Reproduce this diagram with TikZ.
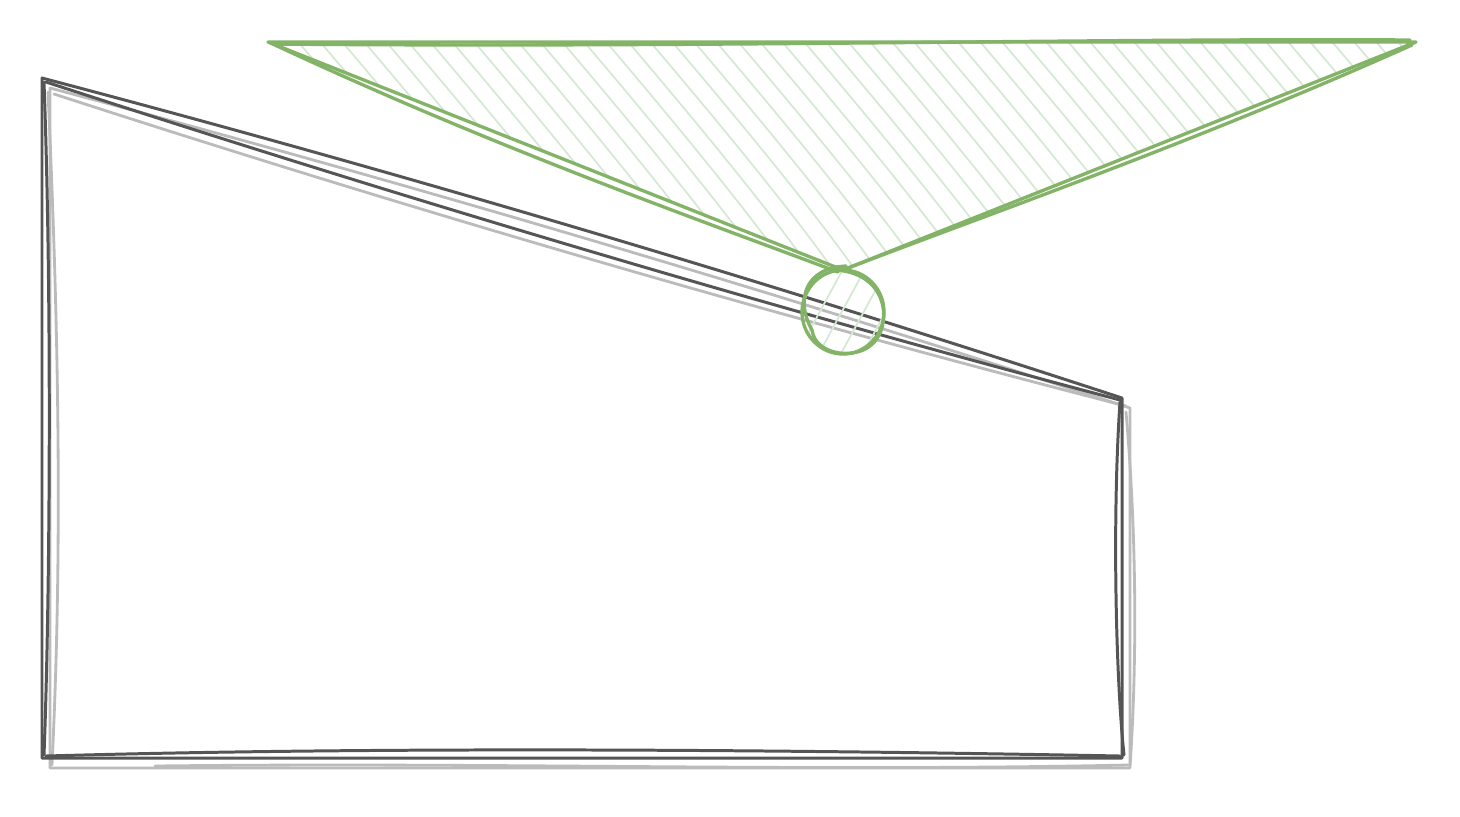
\documentclass[tikz,border=0pt]{standalone}
\usepackage{tikz}
\usepackage{xcolor}
\usetikzlibrary{calc}

\definecolor{edgegray}{HTML}{555555}
\definecolor{shadegray}{HTML}{BBBBBB}
\definecolor{leafgreen}{HTML}{82B366}
\definecolor{hatchgreen}{HTML}{D5E8D4}

\tikzset{
    outline/.style={edgegray, line width=1.7pt, line join=round, line cap=round},
    shade/.style={shadegray, line width=1.6pt, line join=round, line cap=round},
    funnel/.style={leafgreen, line width=1.9pt, line join=round, line cap=round},
    hatch/.style={hatchgreen, line width=1pt}
}

\begin{document}
\begin{tikzpicture}[x=0.02cm, y=-0.02cm]
    \useasboundingbox (0,0) rectangle (1460,816);

    % Shadow of the block
    \draw[shade] (50,88) .. controls (410,184) and (770,290) .. (1130,408)
        -- (1130,768) -- (50,768) -- cycle;
    \draw[shade] (48,92) .. controls (62,400) and (60,600) .. (52,765);
    \draw[shade] (155,766) .. controls (500,762) and (800,772) .. (1128,765);
    \draw[shade] (1126,412) .. controls (1138,550) and (1136,680) .. (1130,766);
    \draw[shade] (54,94) .. controls (411,210) and (769,314) .. (1126,406);

    % Block outline
    \draw[outline] (42,78) .. controls (402,173) and (762,280) .. (1122,398)
        -- (1122,758) -- (42,758) -- cycle;
    \draw[outline] (44,82) .. controls (52,300) and (50,600) .. (44,755);
    \draw[outline] (46,756) .. controls (400,746) and (800,750) .. (1120,756);
    \draw[outline] (1120,402) .. controls (1112,520) and (1116,680) .. (1124,755);
    \draw[outline] (46,82) .. controls (402,198) and (762,305) .. (1120,400);

    % Hatched funnel
    \begin{scope}
        \clip (268,42) -- (1416,42) -- (843,270) -- cycle;
        \foreach \x in {200,222,...,1500} {
            \draw[hatch] (\x,30) .. controls +(60,70) and +(-40,-60) .. ++(200,250);
        }
    \end{scope}
    \draw[funnel] (268,42) -- (1416,42) -- (843,270) -- cycle;
    \draw[funnel] (272,44) .. controls (700,48) and (1100,38) .. (1410,40);
    \draw[funnel] (275,45) .. controls (500,150) and (700,220) .. (838,272);
    \draw[funnel] (1412,45) .. controls (1200,140) and (1000,210) .. (848,268);

    % Small ring
    \begin{scope}
        \clip (843,312) circle (40);
        \foreach \x in {760,782,...,920} {
            \draw[hatch] (\x,260) -- ++(-60,110);
        }
    \end{scope}
    \draw[funnel] (843,312) circle [x radius=41, y radius=42];
    \draw[funnel] (836,270) .. controls (892,274) and (892,330) .. (870,346)
        .. controls (852,360) and (815,354) .. (812,330)
        .. controls (795,300) and (805,268) .. (846,266);
\end{tikzpicture}
\end{document}
